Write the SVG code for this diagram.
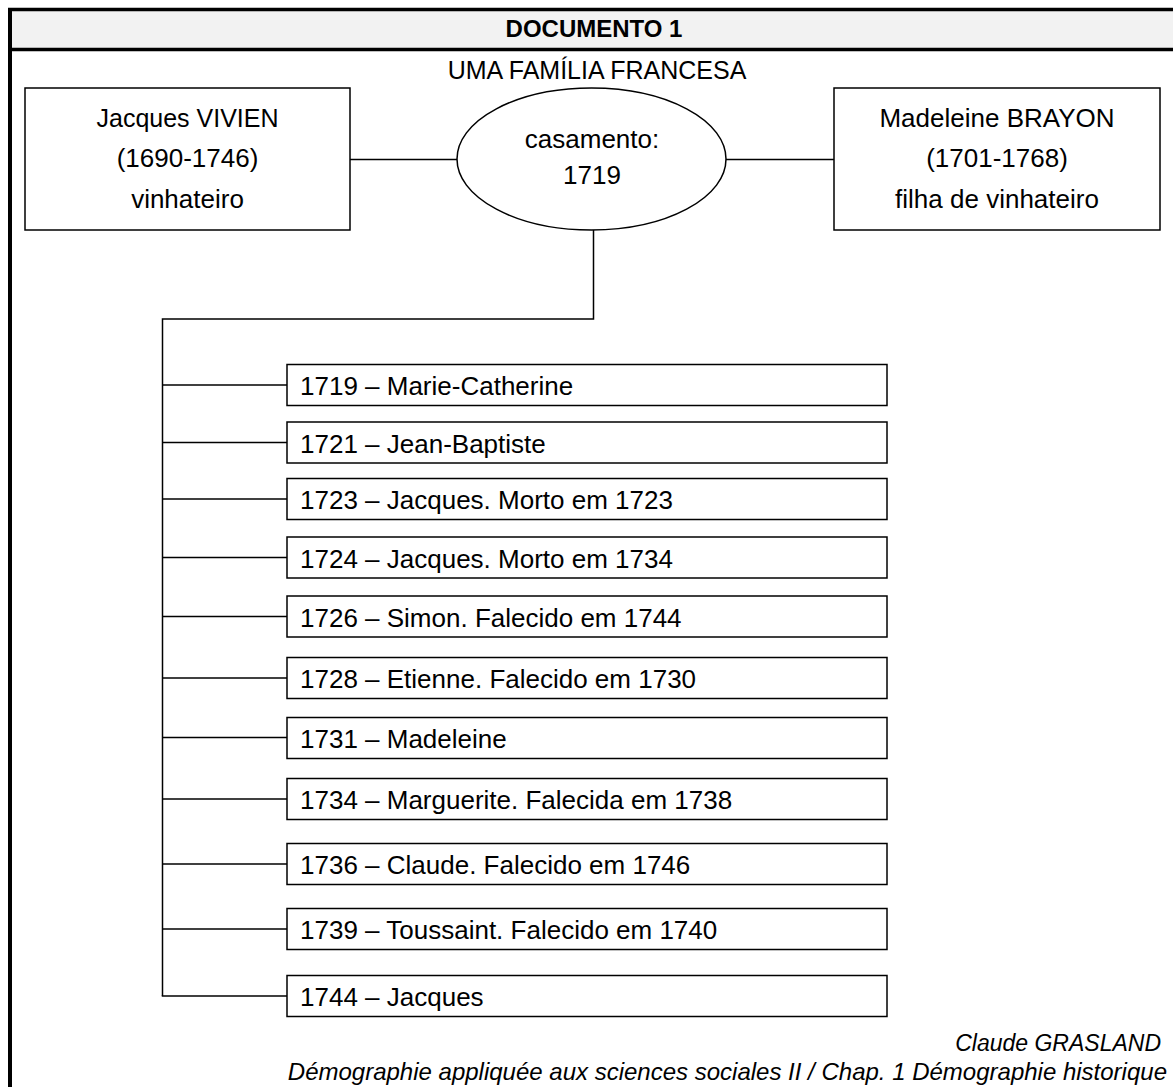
<svg xmlns="http://www.w3.org/2000/svg" width="1173" height="1087" viewBox="0 0 1173 1087">
<style>
  .t { font-family: "Liberation Sans", Arial, sans-serif; font-size: 26px; fill: #000; }
  .c { text-anchor: middle; }
  .s25 { font-size: 25px; }
  .b { font-weight: bold; font-size: 24px; }
  .i { font-style: italic; font-size: 24px; text-anchor: end; }
  .i2 { font-size: 23px; }
  .box { fill: #fff; stroke: #000; stroke-width: 1.5; }
  .ln { fill: none; stroke: #000; stroke-width: 1.5; }
</style>
<rect x="0" y="0" width="1173" height="1087" fill="#fff"/>
<g id="frame">
  <rect x="10" y="9.5" width="1170" height="40" fill="#f2f2f2"/>
  <line x1="8" y1="9.5" x2="1173" y2="9.5" stroke="#000" stroke-width="3.5"/>
  <line x1="8" y1="49.5" x2="1173" y2="49.5" stroke="#000" stroke-width="3.5"/>
  <line x1="10" y1="8" x2="10" y2="1087" stroke="#000" stroke-width="4"/>
  <text class="t c b" x="594" y="37">DOCUMENTO 1</text>
  <text class="t c s25" x="597" y="79">UMA FAMÍLIA FRANCESA</text>
</g>
<g id="connectors">
  <line class="ln" x1="350" y1="159.5" x2="457" y2="159.5"/>
  <line class="ln" x1="726" y1="159.5" x2="834" y2="159.5"/>
  <polyline class="ln" points="593.5,230 593.5,319 162.5,319 162.5,996"/>
  <line class="ln" x1="162.5" y1="385" x2="287" y2="385"/>
  <line class="ln" x1="162.5" y1="442.5" x2="287" y2="442.5"/>
  <line class="ln" x1="162.5" y1="499" x2="287" y2="499"/>
  <line class="ln" x1="162.5" y1="557.5" x2="287" y2="557.5"/>
  <line class="ln" x1="162.5" y1="616.5" x2="287" y2="616.5"/>
  <line class="ln" x1="162.5" y1="678" x2="287" y2="678"/>
  <line class="ln" x1="162.5" y1="737.5" x2="287" y2="737.5"/>
  <line class="ln" x1="162.5" y1="799" x2="287" y2="799"/>
  <line class="ln" x1="162.5" y1="864" x2="287" y2="864"/>
  <line class="ln" x1="162.5" y1="929" x2="287" y2="929"/>
  <line class="ln" x1="161.75" y1="996" x2="287" y2="996"/>
</g>
<g id="father">
  <rect class="box" x="25" y="88" width="325" height="142"/>
  <text class="t c s25" x="187.5" y="127">Jacques VIVIEN</text>
  <text class="t c" x="187.5" y="167">(1690-1746)</text>
  <text class="t c" x="187.5" y="208">vinhateiro</text>
</g>
<g id="marriage">
  <ellipse class="box" cx="591.5" cy="159" rx="134.5" ry="71"/>
  <text class="t c" x="592" y="148">casamento:</text>
  <text class="t c" x="592" y="184">1719</text>
</g>
<g id="mother">
  <rect class="box" x="834" y="88" width="326" height="142"/>
  <text class="t c" x="997" y="127">Madeleine BRAYON</text>
  <text class="t c" x="997" y="167">(1701-1768)</text>
  <text class="t c" x="997" y="208">filha de vinhateiro</text>
</g>
<g id="child1"><rect class="box" x="287" y="364.5" width="600" height="41"/><text class="t" x="300" y="395">1719 – Marie-Catherine</text></g>
<g id="child2"><rect class="box" x="287" y="422" width="600" height="41"/><text class="t" x="300" y="452.5">1721 – Jean-Baptiste</text></g>
<g id="child3"><rect class="box" x="287" y="478.5" width="600" height="41"/><text class="t" x="300" y="509">1723 – Jacques. Morto em 1723</text></g>
<g id="child4"><rect class="box" x="287" y="537" width="600" height="41"/><text class="t" x="300" y="567.5">1724 – Jacques. Morto em 1734</text></g>
<g id="child5"><rect class="box" x="287" y="596" width="600" height="41"/><text class="t" x="300" y="626.5">1726 – Simon. Falecido em 1744</text></g>
<g id="child6"><rect class="box" x="287" y="657.5" width="600" height="41"/><text class="t" x="300" y="688">1728 – Etienne. Falecido em 1730</text></g>
<g id="child7"><rect class="box" x="287" y="717.5" width="600" height="41"/><text class="t" x="300" y="748">1731 – Madeleine</text></g>
<g id="child8"><rect class="box" x="287" y="778.5" width="600" height="41"/><text class="t" x="300" y="809">1734 – Marguerite. Falecida em 1738</text></g>
<g id="child9"><rect class="box" x="287" y="843.5" width="600" height="41"/><text class="t" x="300" y="874">1736 – Claude. Falecido em 1746</text></g>
<g id="child10"><rect class="box" x="287" y="908.5" width="600" height="41"/><text class="t" x="300" y="939">1739 – Toussaint. Falecido em 1740</text></g>
<g id="child11"><rect class="box" x="287" y="975.5" width="600" height="41"/><text class="t" x="300" y="1006">1744 – Jacques</text></g>
<g id="source">
  <text class="t i i2" x="1161" y="1051">Claude GRASLAND</text>
  <text class="t i" x="1167" y="1080">Démographie appliquée aux sciences sociales II / Chap. 1 Démographie historique</text>
</g>
</svg>
